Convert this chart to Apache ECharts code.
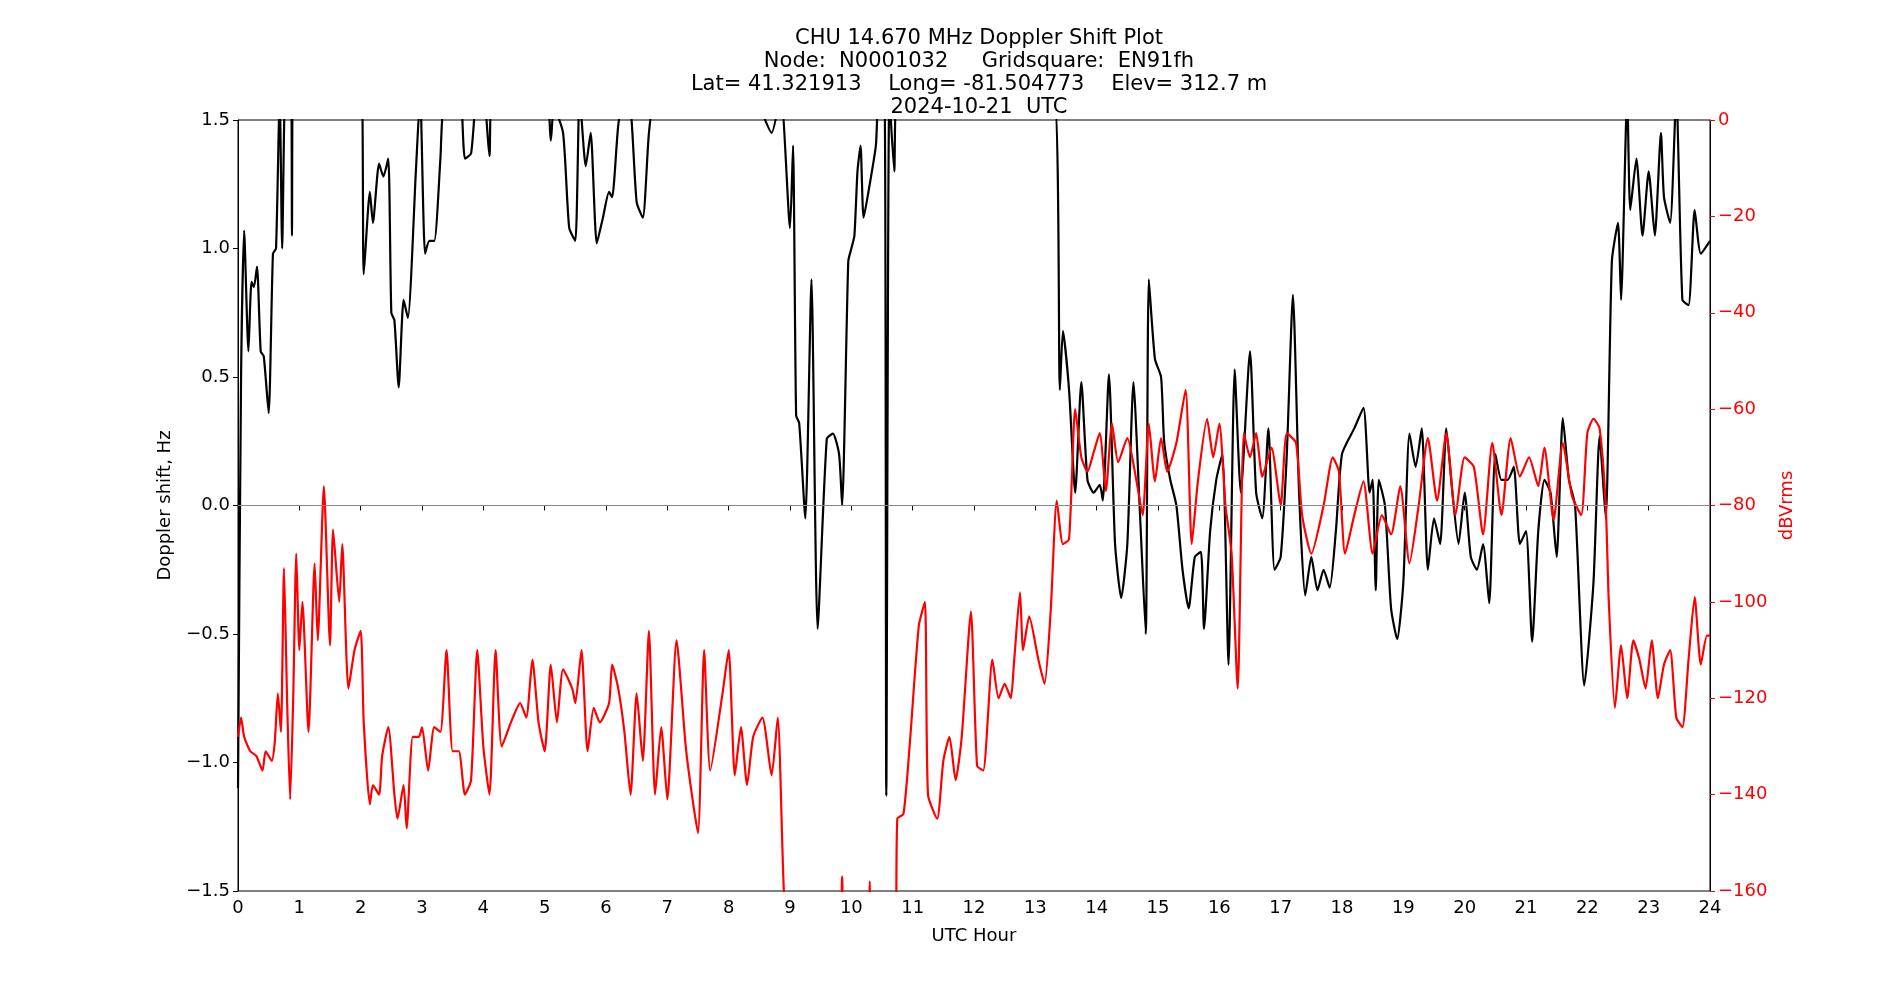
<!DOCTYPE html>
<html>
<head>
<meta charset="utf-8">
<script src="https://cdn.jsdelivr.net/npm/echarts@6/dist/echarts.min.js"></script>
<style>html,body{margin:0;padding:0;background:#fff}#c{width:1900px;height:1000px}</style>
</head>
<body>
<div id="c"></div>
<script>
// [UTC hour, Hz]
const doppler = [
  [0,-1.1],[0.05,0.5],[0.1,1.07],[0.17,0.6],[0.22,0.87],[0.26,0.85],[0.31,0.93],[0.37,0.6],[0.42,0.58],[0.5,0.36],[0.57,0.98],[0.62,1.0],[0.68,1.6],[0.72,1.0],[0.78,1.7],[0.86,1.7],[0.88,1.05],[0.9,1.7],
  [2.0,1.7],[2.05,0.9],[2.15,1.22],[2.2,1.1],[2.3,1.33],[2.37,1.28],[2.45,1.35],[2.5,0.75],[2.55,0.72],[2.62,0.46],[2.7,0.8],[2.77,0.73],[2.9,1.3],[2.97,1.6],[3.05,0.98],[3.12,1.03],[3.2,1.03],[3.3,1.35],[3.35,1.55],
  [3.6,1.7],[3.7,1.35],[3.8,1.37],[3.9,1.6],[4.0,1.6],[4.1,1.36],[4.15,1.6],[5.0,1.6],[5.1,1.42],[5.15,1.55],[5.3,1.45],[5.4,1.08],[5.5,1.03],[5.57,1.6],[5.67,1.32],[5.75,1.45],[5.85,1.02],[5.95,1.12],
  [6.05,1.22],[6.1,1.2],[6.2,1.48],[6.3,1.6],[6.4,1.55],[6.5,1.18],[6.6,1.12],[6.7,1.45],[6.8,1.6],[6.95,1.55],[7.0,1.6],[8.35,1.55],[8.4,1.6],[8.7,1.45],[8.85,1.6],[9.0,1.08],[9.05,1.4],
  [9.1,0.35],[9.15,0.32],[9.25,-0.05],[9.35,0.88],[9.45,-0.48],[9.6,0.26],[9.7,0.28],[9.8,0.2],[9.85,0.0],[9.95,0.95],[10.0,1.0],[10.05,1.05],[10.1,1.3],[10.15,1.4],[10.2,1.12],[10.3,1.25],[10.4,1.4],[10.45,1.6],
  [10.54,1.6],[10.57,-1.13],[10.62,1.6],[10.7,1.3],[10.75,1.6],[13.3,1.6],[13.4,0.45],[13.45,0.68],[13.55,0.45],[13.65,0.05],[13.75,0.48],[13.85,0.1],[13.95,0.05],[14.05,0.08],[14.1,0.02],[14.2,0.51],
  [14.3,-0.15],[14.4,-0.36],[14.5,-0.15],[14.6,0.48],[14.7,0.0],[14.8,-0.5],[14.85,0.88],[14.95,0.57],[15.05,0.5],[15.1,0.25],[15.2,0.1],[15.3,0.0],[15.4,-0.25],[15.5,-0.4],[15.6,-0.2],[15.7,-0.18],[15.75,-0.48],
  [15.85,-0.1],[15.95,0.1],[16.05,0.2],[16.15,-0.62],[16.25,0.53],[16.35,0.05],[16.5,0.6],[16.6,0.05],[16.7,-0.05],[16.8,0.3],[16.9,-0.25],[17.0,-0.2],[17.1,0.2],[17.2,0.82],[17.3,0.05],[17.4,-0.35],[17.5,-0.2],
  [17.6,-0.33],[17.7,-0.25],[17.8,-0.32],[17.9,-0.1],[18.0,0.2],[18.2,0.3],[18.35,0.38],[18.45,0.05],[18.5,0.1],[18.55,-0.33],[18.6,0.1],[18.7,0.0],[18.8,-0.4],[18.9,-0.52],[19.0,-0.3],[19.1,0.28],[19.2,0.15],
  [19.3,0.3],[19.4,-0.25],[19.5,-0.05],[19.6,-0.15],[19.7,0.3],[19.8,0.05],[19.9,-0.15],[20.0,0.05],[20.1,-0.2],[20.2,-0.25],[20.3,-0.15],[20.4,-0.38],[20.5,0.2],[20.6,0.1],[20.7,0.1],[20.8,0.15],[20.9,-0.15],
  [21.0,-0.1],[21.1,-0.53],[21.2,-0.1],[21.3,0.1],[21.4,0.05],[21.5,-0.2],[21.6,0.34],[21.7,0.1],[21.8,0.0],[21.95,-0.7],[22.1,-0.3],[22.2,0.27],[22.3,-0.05],[22.4,0.95],[22.5,1.1],[22.55,0.8],[22.65,1.6],
  [22.7,1.15],[22.8,1.35],[22.9,1.05],[23.0,1.3],[23.1,1.05],[23.2,1.45],[23.25,1.2],[23.35,1.1],[23.45,1.6],[23.55,0.8],[23.65,0.78],[23.75,1.15],[23.85,0.98],[24,1.03]
];
// [UTC hour, dBVrms]
const level = [
  [0,-128],[0.05,-124],[0.1,-128],[0.2,-131],[0.3,-132],[0.4,-135],[0.45,-131],[0.55,-133],[0.6,-129],[0.65,-119],[0.7,-127],[0.75,-93],[0.8,-120],[0.85,-141],[0.9,-120],[0.95,-90],[1.0,-110],[1.05,-100],
  [1.15,-127],[1.25,-92],[1.3,-108],[1.4,-76],[1.5,-109],[1.55,-85],[1.65,-100],[1.7,-88],[1.8,-118],[1.9,-110],[2.0,-106],[2.05,-125],[2.15,-142],[2.2,-138],[2.3,-140],[2.35,-132],[2.45,-126],[2.55,-140],
  [2.6,-145],[2.7,-138],[2.75,-147],[2.85,-128],[2.95,-128],[3.0,-126],[3.1,-135],[3.2,-126],[3.3,-127],[3.4,-110],[3.5,-131],[3.6,-131],[3.7,-140],[3.8,-137],[3.9,-110],[4.0,-130],[4.1,-140],[4.2,-110],
  [4.3,-130],[4.45,-125],[4.6,-121],[4.7,-124],[4.8,-112],[4.9,-125],[5.0,-131],[5.1,-113],[5.2,-125],[5.3,-114],[5.45,-118],[5.5,-121],[5.6,-110],[5.7,-131],[5.8,-122],[5.9,-125],[6.05,-121],[6.1,-113],
  [6.2,-118],[6.3,-127],[6.4,-140],[6.5,-119],[6.6,-133],[6.7,-106],[6.8,-140],[6.9,-126],[7.0,-141],[7.15,-108],[7.3,-130],[7.4,-140],[7.5,-148],[7.6,-110],[7.7,-135],[7.9,-119],[8.0,-110],[8.1,-136],
  [8.2,-126],[8.3,-138],[8.4,-128],[8.55,-124],[8.7,-136],[8.8,-124],[8.9,-160],[9.0,-175],[9.8,-175],[9.85,-157],[9.9,-175],[10.25,-175],[10.3,-158],[10.35,-175],[10.7,-175],[10.75,-145],[10.85,-144],
  [10.95,-130],[11.1,-105],[11.2,-100],[11.25,-140],[11.4,-145],[11.5,-133],[11.6,-128],[11.7,-137],[11.8,-128],[11.95,-102],[12.05,-134],[12.15,-135],[12.3,-112],[12.4,-120],[12.5,-117],[12.6,-120],
  [12.65,-113],[12.75,-98],[12.8,-110],[12.9,-103],[13.05,-112],[13.15,-117],[13.25,-102],[13.35,-79],[13.45,-88],[13.55,-87],[13.65,-60],[13.75,-70],[13.85,-73],[13.95,-69],[14.05,-65],[14.15,-77],
  [14.25,-63],[14.35,-71],[14.5,-66],[14.65,-75],[14.75,-82],[14.85,-63],[14.95,-75],[15.05,-66],[15.15,-73],[15.3,-67],[15.45,-56],[15.55,-88],[15.65,-75],[15.8,-62],[15.9,-70],[16.0,-63],[16.1,-80],
  [16.2,-90],[16.3,-118],[16.4,-65],[16.5,-70],[16.6,-65],[16.7,-74],[16.85,-68],[17.0,-80],[17.1,-65],[17.25,-67],[17.35,-82],[17.5,-90],[17.7,-80],[17.85,-70],[17.95,-73],[18.05,-90],[18.2,-82],
  [18.35,-75],[18.5,-90],[18.65,-82],[18.8,-86],[18.95,-76],[19.1,-92],[19.25,-80],[19.4,-66],[19.55,-79],[19.7,-65],[19.85,-82],[20.0,-70],[20.15,-72],[20.3,-86],[20.45,-67],[20.6,-82],[20.75,-66],
  [20.9,-74],[21.05,-70],[21.2,-76],[21.3,-68],[21.45,-83],[21.6,-67],[21.75,-78],[21.9,-82],[22.0,-65],[22.1,-62],[22.2,-64],[22.3,-80],[22.35,-100],[22.45,-122],[22.55,-109],[22.65,-120],[22.75,-108],
  [22.85,-112],[22.95,-118],[23.05,-108],[23.15,-120],[23.25,-113],[23.35,-110],[23.45,-124],[23.55,-126],[23.65,-112],[23.75,-99],[23.85,-113],[23.95,-107],[24,-107]
];
const titleLines = [
  "CHU 14.670 MHz Doppler Shift Plot",
  "Node:  N0001032     Gridsquare:  EN91fh",
  "Lat= 41.321913    Long= -81.504773    Elev= 312.7 m",
  "2024-10-21  UTC"
];

const font = "DejaVu Sans";
const chart = echarts.init(document.getElementById("c"));
chart.setOption({
  animation: false,
  textStyle: { fontFamily: font },
  title: {
    text: titleLines.join("\n"),
    left: 974, top: 22, textAlign: "center",
    textStyle: { fontFamily: font, fontSize: 21, fontWeight: "normal", color: "#000", lineHeight: 23 }
  },
  grid: { left: 238, right: 190, top: 120, bottom: 109, show: true, borderColor: "#000", borderWidth: 1 },
  xAxis: {
    type: "value", min: 0, max: 24, interval: 1,
    name: "UTC Hour", nameLocation: "middle", nameGap: 36,
    nameTextStyle: { fontFamily: font, fontSize: 18, color: "#000" },
    axisLine: { lineStyle: { color: "#000" } },
    axisTick: { length: 5, lineStyle: { color: "#000" } },
    axisLabel: { fontFamily: font, fontSize: 18, color: "#000", margin: 8 },
    splitLine: { show: false }
  },
  yAxis: [{
    type: "value", min: -1.5, max: 1.5, interval: 0.5,
    name: "Doppler shift, Hz", nameLocation: "middle", nameGap: 64, nameRotate: 90,
    nameTextStyle: { fontFamily: font, fontSize: 18, color: "#000" },
    axisLine: { show: true, lineStyle: { color: "#000" } },
    axisTick: { show: true, length: 5, lineStyle: { color: "#000" } },
    axisLabel: { fontFamily: font, fontSize: 18, color: "#000", formatter: v => v.toFixed(1).replace("-", "\u2212") },
    splitLine: { show: false }
  }, {
    type: "value", min: -160, max: 0, interval: 20, position: "right",
    name: "dBVrms", nameLocation: "middle", nameGap: 64, nameRotate: 90,
    nameTextStyle: { fontFamily: font, fontSize: 18, color: "#f00" },
    axisLine: { show: true, lineStyle: { color: "#000" } },
    axisTick: { show: true, length: 5, lineStyle: { color: "#f00" } },
    axisLabel: { fontFamily: font, fontSize: 18, color: "#f00", formatter: v => String(v).replace("-", "\u2212") },
    splitLine: { show: false }
  }],
  series: [{
    type: "line", yAxisIndex: 0, data: doppler, showSymbol: false, smooth: 0.2, clip: true,
    lineStyle: { color: "#000", width: 2.2 },
    markLine: { silent: true, symbol: "none", label: { show: false },
      lineStyle: { color: "#888", width: 1.2, type: "solid" }, data: [{ yAxis: 0 }] }
  }, {
    type: "line", yAxisIndex: 1, data: level, showSymbol: false, smooth: 0.2, clip: true,
    lineStyle: { color: "#f00", width: 2.2 }
  }]
});
</script>
</body>
</html>
